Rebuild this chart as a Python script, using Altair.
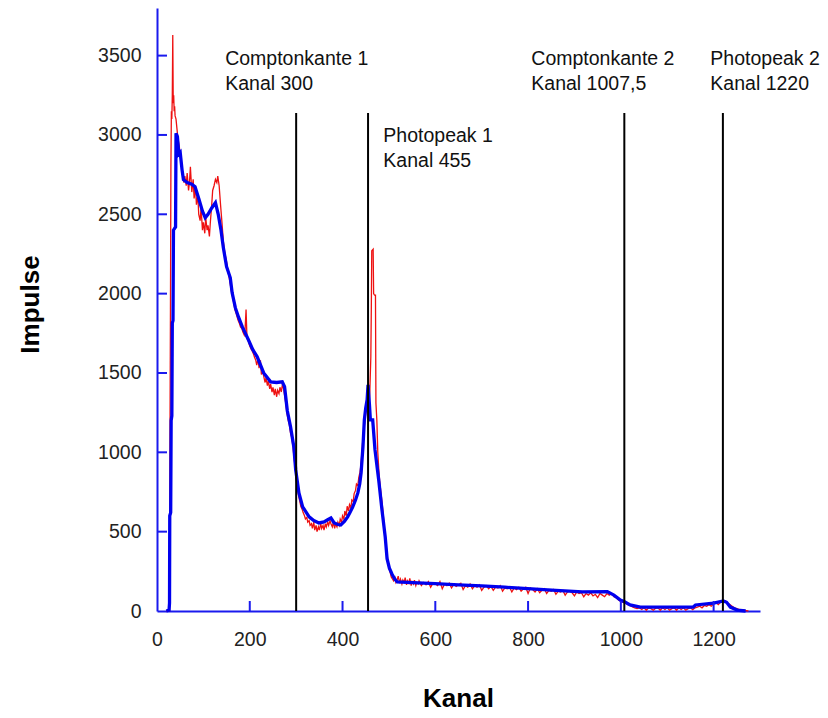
import altair as alt
import pandas as pd

# ---- data ----
blue = [(20, 0), (26, 5), (27, 50), (27.5, 600), (29.5, 620), (30.5, 1200), (32, 1230),
        (33, 1815), (34.5, 1830), (35.5, 2400), (40, 2420), (41, 3010), (44, 2990), (47, 2880),
        (50, 2890), (54, 2780), (57, 2718), (65, 2700), (75, 2690), (82, 2674), (90, 2600),
        (98, 2520), (104, 2478), (110, 2500), (118, 2540), (126, 2573), (132, 2500), (138, 2400),
        (143, 2290), (150, 2170), (158, 2100), (162, 2005), (169, 1910), (176, 1850), (184, 1790),
        (197, 1709), (206, 1650), (216, 1602), (230, 1500), (245, 1444), (258, 1440), (270, 1444),
        (275, 1413), (281, 1260), (288, 1160), (295, 1034), (299, 889), (306, 744), (314, 656),
        (320, 630), (328, 593), (338, 570), (349, 555), (360, 561), (368, 575), (375, 586),
        (382, 555), (390, 545), (396, 542), (404, 565), (411, 593), (416, 620), (422, 656),
        (428, 700), (433, 744), (437, 800), (440, 870), (444, 1034), (447, 1205), (450, 1280),
        (453, 1331), (455, 1425), (458, 1300), (460, 1205), (465, 1205), (470, 1015), (474, 920),
        (478, 826), (485, 637), (492, 467), (496, 330), (501, 270), (507, 230), (513, 200),
        (518, 183), (540, 180), (563, 177), (600, 172), (650, 165), (700, 158), (750, 150),
        (808, 139), (860, 130), (917, 120), (971, 122), (985, 100), (999, 69), (1008, 58),
        (1020, 38), (1042, 25), (1100, 25), (1156, 25), (1161, 38), (1200, 50), (1221, 63),
        (1228, 55), (1236, 25), (1251, 6), (1269, 0)]

red = [(20, 0), (27, 0), (28, 1100), (29, 1900), (30, 2800), (31, 3150), (32, 3100), (33, 3250),
       (34, 3630), (35, 3200), (36, 3250), (37, 3150), (38, 3180), (39, 3120), (41, 3100), (43, 3040),
       (45, 2980), (48, 2930), (50, 2870), (53, 2800), (55, 2760), (58, 2700), (60, 2740), (63, 2680),
       (65, 2760), (68, 2650), (70, 2700), (72, 2800), (75, 2640), (78, 2720), (80, 2600), (83, 2680),
       (85, 2560), (88, 2620), (90, 2500), (93, 2460), (95, 2540), (98, 2400), (100, 2450), (103, 2380),
       (105, 2480), (108, 2400), (110, 2430), (113, 2360), (115, 2450), (118, 2560), (120, 2650),
       (123, 2680), (126, 2720), (129, 2700), (131, 2740), (134, 2680), (137, 2560), (140, 2450),
       (143, 2330), (146, 2260), (150, 2200), (153, 2140), (155, 2110), (158, 2060), (160, 2020),
       (163, 1980), (165, 1950), (168, 1900), (170, 1880), (173, 1850), (175, 1830), (178, 1810),
       (180, 1790), (183, 1780), (185, 1760), (188, 1740), (190, 1780), (192, 1900), (194, 1720),
       (197, 1700), (200, 1670), (203, 1650), (205, 1640), (208, 1620), (210, 1600), (213, 1580),
       (215, 1550), (218, 1590), (220, 1530), (223, 1580), (225, 1490), (228, 1510), (230, 1480),
       (233, 1440), (235, 1470), (238, 1420), (240, 1450), (243, 1400), (245, 1430), (248, 1380),
       (250, 1410), (253, 1360), (255, 1400), (258, 1350), (260, 1390), (263, 1370), (265, 1410),
       (268, 1380), (270, 1420), (273, 1400), (275, 1360), (278, 1300), (280, 1250), (283, 1200),
       (285, 1180), (288, 1120), (290, 1100), (293, 1040), (295, 980), (298, 900), (300, 850),
       (303, 780), (305, 730), (308, 690), (310, 660), (313, 640), (315, 620), (318, 600), (320, 580),
       (323, 590), (325, 560), (328, 570), (330, 540), (333, 550), (335, 520), (338, 560), (340, 510),
       (343, 540), (345, 500), (348, 530), (350, 510), (353, 550), (355, 520), (358, 540), (360, 510),
       (363, 550), (365, 530), (368, 560), (370, 540), (373, 570), (375, 550), (378, 530), (380, 560),
       (383, 520), (385, 550), (388, 530), (390, 560), (393, 540), (395, 580), (398, 560), (400, 600),
       (403, 580), (405, 630), (408, 600), (410, 660), (413, 630), (415, 670), (418, 650), (420, 700),
       (423, 690), (425, 740), (428, 760), (430, 800), (433, 790), (435, 840), (438, 880), (440, 930),
       (443, 1050), (445, 1120), (448, 1190), (450, 1250), (453, 1300), (455, 1350), (457, 1250),
       (459, 1400), (461, 1600), (462, 1900), (463, 2270), (466, 2280), (467, 2000), (469, 1990),
       (471, 1990), (472, 1310), (474, 1200), (476, 1000), (478, 900), (480, 820), (483, 740),
       (485, 690), (488, 600), (490, 520), (493, 450), (495, 380), (498, 310), (500, 270), (503, 240),
       (505, 215), (508, 200), (510, 190), (513, 210), (515, 180), (518, 200), (520, 220), (523, 175),
       (525, 200), (528, 170), (530, 195), (533, 180), (535, 210), (538, 165), (540, 190), (543, 175),
       (545, 205), (548, 160), (550, 185), (553, 170), (555, 195), (558, 160), (560, 180), (563, 170),
       (565, 190), (570, 160), (575, 180), (580, 165), (585, 185), (590, 150), (595, 175), (600, 170),
       (605, 160), (610, 185), (615, 140), (620, 170), (625, 160), (630, 175), (635, 145), (640, 170),
       (645, 155), (650, 165), (655, 175), (660, 135), (665, 160), (670, 150), (675, 170), (680, 140),
       (685, 160), (690, 150), (695, 165), (700, 130), (705, 150), (710, 160), (715, 140), (720, 155),
       (725, 130), (730, 150), (735, 145), (740, 160), (745, 125), (750, 145), (755, 140), (760, 150),
       (765, 120), (770, 145), (775, 135), (780, 150), (785, 125), (790, 140), (795, 150), (800, 110),
       (805, 145), (810, 135), (815, 120), (820, 140), (825, 115), (830, 130), (835, 140), (840, 110),
       (845, 130), (850, 125), (855, 135), (860, 105), (865, 125), (870, 120), (875, 130), (880, 100),
       (885, 120), (890, 125), (895, 115), (900, 95), (905, 120), (910, 110), (915, 115), (920, 90),
       (925, 110), (930, 100), (935, 115), (940, 95), (945, 105), (950, 85), (955, 110), (960, 100),
       (965, 90), (970, 110), (975, 100), (980, 110), (985, 90), (990, 85), (995, 70), (1000, 60),
       (1005, 55), (1010, 50), (1015, 40), (1020, 35), (1025, 25), (1030, 20), (1035, 15), (1040, 20),
       (1045, 10), (1050, 20), (1055, 5), (1060, 20), (1065, 15), (1070, 5), (1075, 18), (1080, 20),
       (1085, 5), (1090, 20), (1095, 10), (1100, 20), (1105, 5), (1110, 15), (1115, 20), (1120, 5),
       (1125, 20), (1130, 10), (1135, 20), (1140, 5), (1145, 15), (1150, 20), (1155, 8), (1160, 20),
       (1165, 25), (1170, 30), (1175, 20), (1180, 35), (1185, 30), (1190, 40), (1195, 30), (1200, 45),
       (1205, 55), (1210, 40), (1215, 55), (1220, 60), (1225, 65), (1230, 50), (1235, 40), (1240, 30),
       (1245, 20), (1250, 15), (1255, 10), (1260, 8), (1265, 5), (1270, 3), (1275, 0)]

marker_channels = [300, 455, 1007.5, 1220]
marker_top = 3138

ann_text = ["Comptonkante 1", "Kanal 300", "Photopeak 1", "Kanal 455",
            "Comptonkante 2", "Kanal 1007,5", "Photopeak 2", "Kanal 1220"]
ann_x = [147, 147, 488, 488, 807, 807, 1193, 1193]
ann_y = [3441, 3283, 2956, 2798, 3441, 3283, 3441, 3283]

x_ticks = [200, 400, 600, 800, 1000, 1200]
y_ticks = [500, 1000, 1500, 2000, 2500, 3000, 3500]

# ---- tables ----
blue_df = pd.DataFrame(blue, columns=["ch", "val"])
red_df = pd.DataFrame(red, columns=["ch", "val"])
mark_df = pd.DataFrame({"ch": marker_channels, "y0": [0] * 4, "y1": [marker_top] * 4})
ann_df = pd.DataFrame({"ch": ann_x, "val": ann_y, "t": ann_text})
xt_df = pd.DataFrame({"ch": x_ticks})
yt_df = pd.DataFrame({"val": y_ticks})

FONT = "Liberation Sans"
AXC = "#1a1aee"
W, H = 603, 603

xscale = alt.Scale(domain=[0, 1300], nice=False, zero=False)
yscale = alt.Scale(domain=[0, 3800], nice=False, zero=False)

xaxis = alt.Axis(values=[0] + x_ticks, format="d", grid=False, ticks=False, domainColor=AXC,
                 domainWidth=2, labelFont=FONT, labelFontSize=19.5, labelColor="#222",
                 labelPadding=19, labelFlush=False, title="Kanal", titleFont=FONT,
                 titleFontSize=26, titleFontWeight="bold", titleColor="#000", titleX=301,
                 titleY=87, titleAlign="center", titleBaseline="middle")
yaxis = alt.Axis(values=[0] + y_ticks, format="d", grid=False, ticks=False, domainColor=AXC,
                 domainWidth=2, labelFont=FONT, labelFontSize=19.5, labelColor="#222",
                 labelPadding=16, title="Impulse", titleFont=FONT, titleFontSize=26,
                 titleFontWeight="bold", titleColor="#000", titleAngle=270, titleX=-127,
                 titleY=296, titleAlign="center", titleBaseline="middle")

X = alt.X("ch:Q", scale=xscale, axis=xaxis, title="Kanal")
Y = alt.Y("val:Q", scale=yscale, axis=yaxis, title="Impulse")

red_line = alt.Chart(red_df).mark_line(color="#ee1111", strokeWidth=1.3).encode(
    x=X, y=Y, order="ch:Q",
)
blue_line = alt.Chart(blue_df).mark_line(color="#0000ee", strokeWidth=3.3).encode(
    x=X, y=Y, order="ch:Q",
)
markers = alt.Chart(mark_df).mark_rule(color="#000", strokeWidth=2).encode(
    x=X, y=alt.Y("y0:Q", scale=yscale, axis=yaxis, title="Impulse"), y2="y1:Q",
)
xt = alt.Chart(xt_df).mark_rule(color=AXC, strokeWidth=2).encode(
    x=X, y=alt.value(H), y2=alt.value(H - 10),
)
yt = alt.Chart(yt_df).mark_rule(color=AXC, strokeWidth=2).encode(
    y=Y, x=alt.value(0), x2=alt.value(10),
)
labels = alt.Chart(ann_df).mark_text(align="left", baseline="alphabetic", font=FONT,
                                     fontSize=19.5, color="#111").encode(
    x=X, y=Y, text="t:N",
)

chart = alt.layer(red_line, blue_line, xt, yt, markers, labels).properties(
    width=W, height=H,
    padding={"left": 157, "top": 8, "right": 68, "bottom": 107},
    autosize=alt.AutoSizeParams(type="none"),
    background="white",
).configure_view(stroke=None)

chart.save("out.html", embed_options={"renderer": "svg", "actions": False})
